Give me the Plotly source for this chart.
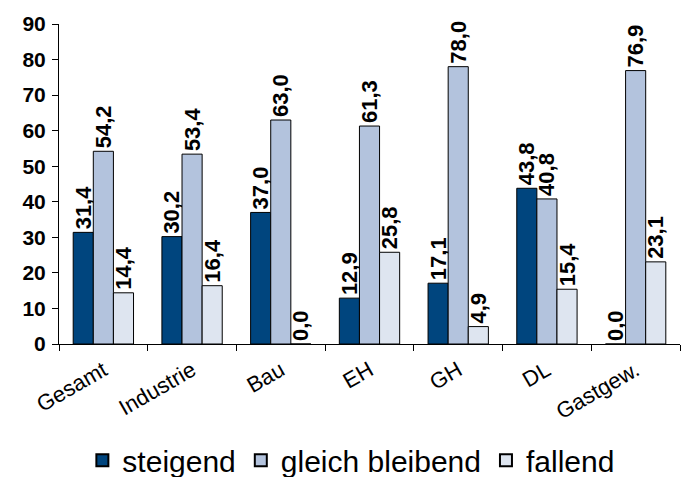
import plotly.graph_objects as go

categories = ["Gesamt", "Industrie", "Bau", "EH", "GH", "DL", "Gastgew."]
steigend = [31.4, 30.2, 37.0, 12.9, 17.1, 43.8, 0.0]
gleich_bleibend = [54.2, 53.4, 63.0, 61.3, 78.0, 40.8, 76.9]
fallend = [14.4, 16.4, 0.0, 25.8, 4.9, 15.4, 23.1]
y_ticks = [0, 10, 20, 30, 40, 50, 60, 70, 80, 90]

series = [
    ("steigend", steigend, "#00457E"),
    ("gleich bleibend", gleich_bleibend, "#B3C3DD"),
    ("fallend", fallend, "#DEE5F0"),
]

FONT = "Liberation Sans"

fig = go.Figure()
for name, vals, color in series:
    fig.add_trace(go.Bar(
        name=name,
        x=categories,
        y=vals,
        marker=dict(color=color, line=dict(color="#000000", width=1)),
        text=[f"{v:.1f}".replace(".", ",") for v in vals],
        textposition="outside",
        textangle=-90,
        constraintext="none",
        cliponaxis=False,
        textfont=dict(family=FONT, size=22, color="#000000", weight="bold"),
        hoverinfo="skip",
    ))

fig.update_layout(
    width=684,
    height=477,
    margin=dict(l=59, r=4, t=24, b=133),
    paper_bgcolor="#FFFFFF",
    plot_bgcolor="#FFFFFF",
    barmode="group",
    bargap=0.32,
    bargroupgap=0,
    separators=",.",
    font=dict(family=FONT, color="#000000"),
    showlegend=True,
    legend=dict(
        orientation="h",
        x=0.47,
        xanchor="center",
        yref="container",
        y=0.035,
        yanchor="middle",
        font=dict(family=FONT, size=30, color="#000000"),
        itemsizing="constant",
        itemwidth=30,
        traceorder="normal",
    ),
    xaxis=dict(
        automargin=False,
        showline=True,
        linecolor="#000000",
        linewidth=1,
        ticks="outside",
        tickson="boundaries",
        ticklen=6,
        tickcolor="#000000",
        tickangle=-30,
        ticklabelstandoff=4,
        tickfont=dict(family=FONT, size=22, color="#000000"),
        showgrid=False,
    ),
    yaxis=dict(
        automargin=False,
        range=[0, 90],
        tickvals=y_ticks,
        showline=True,
        linecolor="#000000",
        linewidth=1,
        ticks="outside",
        ticklen=6,
        tickcolor="#000000",
        ticklabelstandoff=2,
        tickfont=dict(family=FONT, size=21, color="#000000", weight="bold"),
        showgrid=False,
        zeroline=False,
    ),
)

fig.write_html("out.html")
